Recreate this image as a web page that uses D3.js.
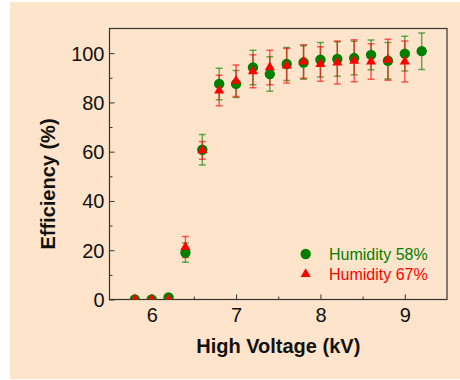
<!DOCTYPE html>
<html>
<head>
<meta charset="utf-8">
<script src="https://cdn.jsdelivr.net/npm/d3@7"></script>
<style>
  body { margin: 0; background: #ffffff; }
  text { font-family: "Liberation Sans", Arial, sans-serif; }
</style>
</head>
<body>
<div id="chart"></div>
<script>
// Humidity 58% (green circles)
const volt58 = [5.8, 6.0, 6.2, 6.4, 6.6, 6.8, 7.0, 7.2, 7.4, 7.6, 7.8, 8.0, 8.2, 8.4, 8.6, 8.8, 9.0, 9.2];
const eff58 = [0, 0, 0.8, 19, 60.8, 87.5, 87.5, 94.2, 91.5, 95.6, 96.2, 97.3, 97.6, 98.0, 99.3, 96.9, 99.8, 100.8];
const err58 = [0, 0, 0, 3.9, 6.2, 6.4, 5.5, 7, 7, 6.7, 6.8, 7, 7, 6.8, 6, 7.4, 7.1, 7.4];

// Humidity 67% (red triangles)
const volt67 = [5.8, 6.0, 6.2, 6.4, 6.6, 6.8, 7.0, 7.2, 7.4, 7.6, 7.8, 8.0, 8.2, 8.4, 8.6, 8.8, 9.0];
const eff67 = [0, 0, 0, 21.3, 60.5, 84.8, 88.8, 92.6, 94.2, 94.9, 96.6, 95.6, 96.2, 96.9, 96.6, 97.3, 96.6];
const err67 = [0, 0, 0, 4.3, 3.6, 6.2, 6.4, 6.7, 7, 7, 6.8, 7, 8.7, 8.5, 7.2, 8.3, 8.3];

const xTicks = [6, 7, 8, 9];
const xMinor = [6.5, 7.5, 8.5];
const yTicks = [0, 20, 40, 60, 80, 100];
const yMinor = [10, 30, 50, 70, 90];

const seriesNames = ["Humidity 58%", "Humidity 67%"];
const seriesColors = ["#008000", "#ff0000"];

drawChart();

function drawChart() {
  const W = 460, H = 380;
  const left = 109.5, right = 447, top = 28.5, bottom = 299.5;

  const svg = d3.select("#chart").append("svg")
    .attr("width", W)
    .attr("height", H);

  // beige panel
  svg.append("rect")
    .attr("x", 10).attr("y", 2)
    .attr("width", W - 10).attr("height", H - 3)
    .attr("fill", "#fde4cb");

  const x = d3.scaleLinear().domain([5.5, 9.5]).range([left, right]);
  const y = d3.scaleLinear().domain([0, 110]).range([bottom, top]);

  // clip for markers sitting on zero
  svg.append("clipPath").attr("id", "plotclip")
    .append("rect")
    .attr("x", left).attr("y", top)
    .attr("width", right - left).attr("height", bottom - top);

  // minor ticks
  svg.append("g")
    .attr("transform", "translate(0," + bottom + ")")
    .call(d3.axisBottom(x).tickValues(xMinor).tickSize(-3).tickFormat(""))
    .call(g => g.select(".domain").remove());
  svg.append("g")
    .attr("transform", "translate(" + left + ",0)")
    .call(d3.axisLeft(y).tickValues(yMinor).tickSize(-3).tickFormat(""))
    .call(g => g.select(".domain").remove());

  // major ticks + labels
  const xAxis = svg.append("g")
    .attr("transform", "translate(0," + bottom + ")")
    .call(d3.axisBottom(x).tickValues(xTicks).tickSize(-5).tickPadding(8).tickFormat(d3.format("d")));
  xAxis.select(".domain").remove();
  xAxis.selectAll("text").style("font-size", "20px").attr("fill", "#111");

  const yAxis = svg.append("g")
    .attr("transform", "translate(" + left + ",0)")
    .call(d3.axisLeft(y).tickValues(yTicks).tickSize(-5).tickPadding(5).tickFormat(d3.format("d")));
  yAxis.select(".domain").remove();
  yAxis.selectAll("text").style("font-size", "20px").attr("fill", "#111").attr("dy", "0.35em");

  svg.selectAll(".tick line").attr("stroke", "#333");

  // frame
  svg.append("rect")
    .attr("x", left).attr("y", top)
    .attr("width", right - left).attr("height", bottom - top)
    .attr("fill", "none")
    .attr("stroke", "#333")
    .attr("stroke-width", 1.2);

  const data58 = volt58.map((v, i) => ({ v: v, e: eff58[i], s: err58[i] }));
  const data67 = volt67.map((v, i) => ({ v: v, e: eff67[i], s: err67[i] }));

  const plot = svg.append("g").attr("clip-path", "url(#plotclip)");

  // error bars
  function errorBars(data, color) {
    const g = plot.append("g")
      .attr("stroke", color)
      .attr("stroke-opacity", 0.6)
      .attr("stroke-width", 1.5);
    const bars = data.filter(d => d.s > 0);
    g.selectAll("line.v").data(bars).enter().append("line")
      .attr("x1", d => x(d.v)).attr("x2", d => x(d.v))
      .attr("y1", d => y(d.e - d.s)).attr("y2", d => y(d.e + d.s));
    g.selectAll("line.t").data(bars).enter().append("line")
      .attr("x1", d => x(d.v) - 3.5).attr("x2", d => x(d.v) + 3.5)
      .attr("y1", d => y(d.e + d.s)).attr("y2", d => y(d.e + d.s));
    g.selectAll("line.b").data(bars).enter().append("line")
      .attr("x1", d => x(d.v) - 3.5).attr("x2", d => x(d.v) + 3.5)
      .attr("y1", d => y(d.e - d.s)).attr("y2", d => y(d.e - d.s));
  }
  errorBars(data58, seriesColors[0]);
  errorBars(data67, seriesColors[1]);

  // markers
  plot.selectAll("circle.m58").data(data58).enter().append("circle")
    .attr("cx", d => x(d.v)).attr("cy", d => y(d.e))
    .attr("r", 5.2)
    .attr("fill", seriesColors[0]);

  const tri = d3.symbol().type(d3.symbolTriangle).size(44);
  plot.selectAll("path.m67").data(data67).enter().append("path")
    .attr("d", tri)
    .attr("transform", d => "translate(" + x(d.v) + "," + y(d.e) + ")")
    .attr("fill", seriesColors[1]);

  // legend
  const legend = svg.append("g");
  legend.append("circle")
    .attr("cx", 305.7).attr("cy", 254).attr("r", 5.2)
    .attr("fill", seriesColors[0]);
  legend.append("path")
    .attr("d", tri)
    .attr("transform", "translate(305.7,274)")
    .attr("fill", seriesColors[1]);
  seriesNames.forEach((name, i) => {
    legend.append("text")
      .attr("x", 329).attr("y", 259.5 + i * 20)
      .style("font-size", "16px")
      .attr("fill", seriesColors[i])
      .text(name);
  });

  // axis titles
  svg.append("text")
    .attr("x", (left + right) / 2).attr("y", 353)
    .attr("text-anchor", "middle")
    .style("font-size", "20px").style("font-weight", "bold")
    .attr("fill", "#111")
    .text("High Voltage (kV)");

  svg.append("text")
    .attr("transform", "translate(55,184) rotate(-90)")
    .attr("text-anchor", "middle")
    .style("font-size", "20px").style("font-weight", "bold")
    .attr("fill", "#111")
    .text("Efficiency (%)");
}
</script>
</body>
</html>
